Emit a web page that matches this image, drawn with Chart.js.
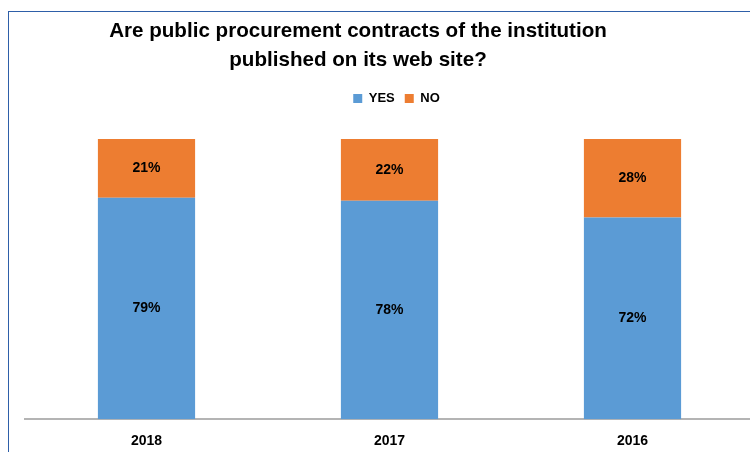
<!DOCTYPE html>
<html>
<head>
<meta charset="utf-8">
<script src="https://cdn.jsdelivr.net/npm/chart.js@4"></script>
<style>
  html, body { margin: 0; padding: 0; background: #fff; overflow: hidden; }
  .wrap { position: relative; width: 750px; height: 452px; overflow: hidden; }
  .frame {
    position: absolute; left: 8px; top: 11px; width: 800px; height: 500px;
    border-left: 1.5px solid #2e5fa8; border-top: 1.5px solid #2e5fa8;
  }
  #chart { position: absolute; left: 0; top: 0; }
</style>
</head>
<body>
<div class="wrap">
  <div class="frame"></div>
  <canvas id="chart" width="760" height="468"></canvas>
</div>
<script>
const years = ["2018", "2017", "2016"];
const yesValues = [79, 78, 72];
const noValues = [21, 22, 28];
const titleLines = [
  "Are public procurement contracts of the institution",
  "published on its web site?",
];

const FONT = "'Liberation Sans', Arial, sans-serif";

// title sits a little left of the plot centre, so it is drawn by hand
const titleBlock = {
  id: "titleBlock",
  afterDraw(chart) {
    const { ctx } = chart;
    ctx.save();
    ctx.font = "bold 20.6px " + FONT;
    ctx.fillStyle = "#000";
    ctx.textAlign = "center";
    ctx.textBaseline = "middle";
    titleLines.forEach((line, i) => ctx.fillText(line, 358, 31 + i * 29));
    ctx.restore();
  },
};

// extra room under the legend, and nudge it right a bit
const legendSpacing = {
  id: "legendSpacing",
  beforeInit(chart) {
    const fit = chart.legend.fit;
    chart.legend.fit = function () {
      fit.bind(chart.legend)();
      this.height += 24;
    };
  },
  afterLayout(chart) {
    chart.legend.left += 7;
    chart.legend.right += 7;
  },
};

// writes the percentage in the middle of every segment
const segmentLabels = {
  id: "segmentLabels",
  afterDatasetsDraw(chart) {
    const { ctx } = chart;
    ctx.save();
    ctx.font = "bold 14px " + FONT;
    ctx.fillStyle = "#000";
    ctx.textAlign = "center";
    ctx.textBaseline = "middle";
    chart.data.datasets.forEach((ds, i) => {
      chart.getDatasetMeta(i).data.forEach((bar, j) => {
        const midY = (bar.y + bar.base) / 2;
        ctx.fillText(ds.data[j] + "%", bar.x, midY);
      });
    });
    ctx.restore();
  },
};

new Chart(document.getElementById("chart"), {
  type: "bar",
  data: {
    labels: years,
    datasets: [
      { label: "YES", data: yesValues, backgroundColor: "#5b9bd5" },
      { label: "NO", data: noValues, backgroundColor: "#ed7d31" },
    ],
  },
  options: {
    responsive: false,
    animation: false,
    layout: { padding: { left: 25, right: 6, top: 82, bottom: 4 } },
    datasets: {
      bar: { categoryPercentage: 1, barPercentage: 0.4 },
    },
    scales: {
      x: {
        stacked: true,
        grid: { display: false, drawTicks: false },
        border: { color: "#b4b4b4", width: 2 },
        ticks: {
          padding: 14,
          color: "#000",
          font: { family: FONT, size: 14, weight: "bold" },
        },
      },
      y: {
        stacked: true,
        display: false,
        min: 0,
        max: 100,
      },
    },
    plugins: {
      tooltip: { enabled: false },
      title: { display: false },
      legend: {
        display: true,
        labels: {
          color: "#000",
          boxWidth: 9,
          boxHeight: 9,
          padding: 10,
          font: { family: FONT, size: 13, weight: "bold" },
        },
      },
    },
  },
  plugins: [titleBlock, legendSpacing, segmentLabels],
});
</script>
</body>
</html>
